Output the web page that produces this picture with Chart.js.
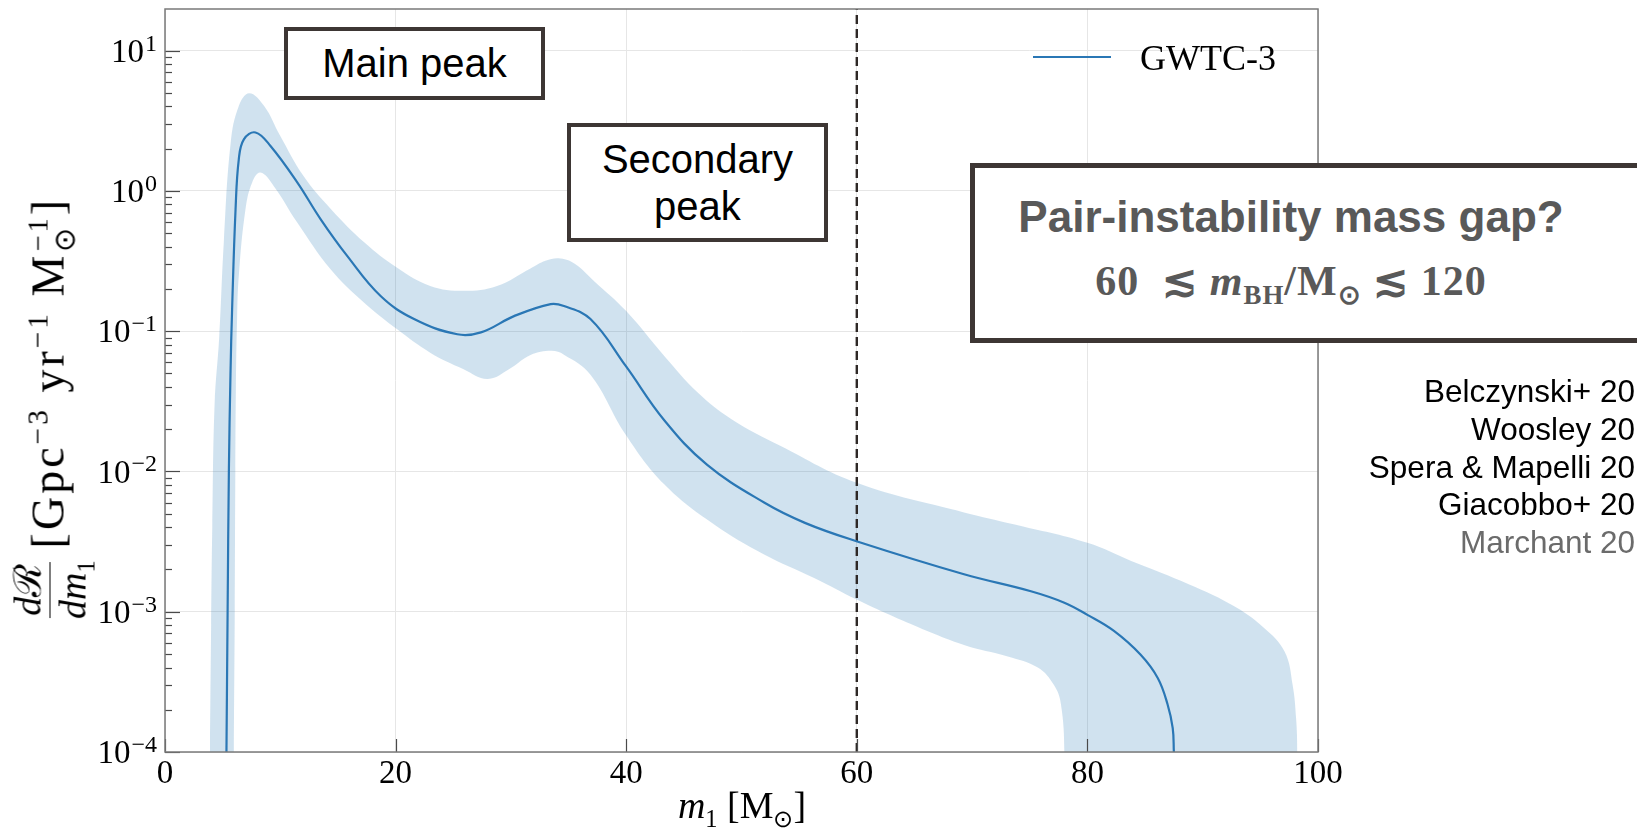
<!DOCTYPE html>
<html>
<head>
<meta charset="utf-8">
<script src="https://cdn.jsdelivr.net/npm/chart.js@4.4.0/dist/chart.umd.min.js"></script>
<style>
    html, body { margin: 0; padding: 0; background: #fff; }
    #wrap { position: relative; width: 1637px; height: 828px; overflow: hidden; }
    #chart { position: absolute; left: 0; top: 0; }
    .box {
        position: absolute; box-sizing: border-box; background: #fff;
        border: 4px solid #3d3634;
        display: flex; align-items: center; justify-content: center; text-align: center;
        font-family: 'Liberation Sans', Arial, sans-serif; font-size: 40px; color: #000;
    }
    .serif { font-family: 'Liberation Serif', 'Times New Roman', serif; }
    .abs { position: absolute; white-space: nowrap; }
    #refs { right: 2px; top: 373px; text-align: right; font-family: 'Liberation Sans', Arial, sans-serif; font-size: 31.5px; line-height: 37.8px; color: #000; }
    #ytitle {
        left: 52px; top: 381px; transform: translate(-50%, -50%) rotate(-90deg);
        display: flex; align-items: center; font-size: 38px; color: #000;
    }
    #ytitle .unit { font-size: 46px; letter-spacing: 3px; }
    .frac { display: inline-flex; flex-direction: column; align-items: center; margin-right: 12px; line-height: 1; }
    .frac .num { border-bottom: 1.6px solid #000; padding: 0 2px 3px; }
    .frac .den { padding-top: 3px; }
    sup, sub { font-size: 0.64em; line-height: 0; }
    .ss { display: inline-flex; flex-direction: column; font-size: 0.62em; line-height: 0.95; vertical-align: 0.55em; margin-left: 1px; }
</style>
</head>
<body>
<div id="wrap">
    <canvas id="chart" width="1637" height="828"></canvas>

    <div class="box" style="left:284px; top:27px; width:261px; height:73px;">Main peak</div>
    <div class="box" style="left:567px; top:123px; width:261px; height:119px; line-height:46.7px;">Secondary<br>peak</div>

    <div class="box" style="left:970px; top:163px; width:720px; height:180px; border-width:5px;"></div>
    <div class="abs" style="left:970px; width:642px; top:195px; text-align:center; font-family:'Liberation Sans', Arial, sans-serif; font-weight:bold; font-size:44px; line-height:44px; color:#595959;">Pair-instability mass gap?</div>
    <div class="abs serif" style="left:970px; width:642px; top:260px; text-align:center; font-weight:bold; font-size:42px; line-height:42px; letter-spacing:1px; color:#595959;">60&nbsp; ≲ <i>m</i><sub>BH</sub>/M<sub>⊙</sub> ≲ 120</div>

    <div class="abs" style="left:1033px; top:56px; width:78px; height:2.4px; background:#2a77b5;"></div>
    <div class="abs serif" style="left:1140px; top:40px; font-size:36px; line-height:36px;">GWTC-3</div>

    <div id="refs" class="abs">
        Belczynski+ 20<br>Woosley 20<br>Spera &amp; Mapelli 20<br>Giacobbo+ 20<br><span style="color:#6b6b6b;">Marchant 20</span>
    </div>

    <div class="abs serif" style="left:742px; top:786px; transform:translateX(-50%); font-size:38px; line-height:38px;"><i>m</i><sub>1</sub> [M<sub>⊙</sub>]</div>

    <div id="ytitle" class="abs serif">
        <span class="frac"><span class="num"><i>d</i>ℛ</span><span class="den"><i>dm</i><sub>1</sub></span></span>
        <span class="unit">[Gpc<sup>−3</sup> yr<sup>−1</sup> M<span class="ss"><span>−1</span><span>⊙</span></span>]</span>
    </div>
</div>

<script>
// axis limits
const xMin = 0, xMax = 100;
const yMin = 1e-4, yMax = 19.8;
const gapEdge = 60;
// band edges that run off the bottom of the plot
const offScale = 1e-6;

// median (GWTC-3)
const medianMass = [5.33, 5.43, 5.54, 5.68, 5.82, 6.12, 6.4, 6.84, 7.85, 9.15, 11.47, 13.49, 15.8, 18.7, 21.6, 25.35, 27.4, 30.27, 33.45, 34.6, 36.9, 39.96, 43.3, 47.0, 51.96, 55.5, 59.97, 69.3, 75.1, 78.0, 80.0, 82.3, 84.6, 86.1, 86.95, 87.4, 87.5];
const medianRate = [1e-4, 1e-3, 1e-2, 0.05, 0.143, 0.74, 1.68, 2.33, 2.61, 2.09, 1.15, 0.63, 0.344, 0.178, 0.122, 0.095, 0.098, 0.128, 0.156, 0.151, 0.122, 0.0565, 0.0232, 0.0112, 0.0060, 0.0043, 0.00318, 0.00185, 0.0014, 0.00116, 0.00095, 0.00073, 0.000495, 0.000337, 0.000219, 0.000148, 1e-4];

// 90% band, upper edge
const upperMass = [3.9, 4.0, 4.1, 4.3, 4.7, 5.1, 5.7, 6.4, 7.3, 8.6, 10.0, 12.0, 14.4, 17.3, 20.1, 23.0, 25.9, 28.8, 31.7, 33.0, 34.3, 35.6, 37.2, 40.0, 43.3, 46.2, 49.1, 53.4, 60.0, 69.3, 73.6, 80.0, 83.8, 88.1, 92.5, 95.3, 97.1, 97.8, 98.1, 98.2, 98.25];
const upperRate = [1e-4, 8e-4, 4e-3, 0.03, 0.09, 0.43, 2.21, 4.03, 4.97, 4.03, 2.46, 1.28, 0.74, 0.428, 0.284, 0.21, 0.194, 0.21, 0.28, 0.318, 0.33, 0.3, 0.228, 0.139, 0.0665, 0.0365, 0.0237, 0.0152, 0.0083, 0.0051, 0.0042, 0.0031, 0.0023, 0.00166, 0.00112, 0.00077, 0.00052, 0.0003, 0.000174, 1e-4, offScale];

// 90% band, lower edge
const lowerMass = [3.9, 5.9, 5.97, 6.05, 6.1, 6.15, 6.25, 6.4, 6.98, 7.56, 8.28, 9.44, 11.47, 14.36, 17.25, 20.14, 23.0, 25.9, 28.0, 30.0, 31.7, 33.5, 34.6, 36.9, 39.96, 43.3, 47.6, 51.96, 56.3, 60.0, 63.5, 69.3, 73.1, 75.7, 77.1, 77.7, 78.0, 78.1, 98.3];
const lowerRate = [offScale, offScale, 1e-4, 1e-3, 0.01, 0.04, 0.12, 0.247, 0.74, 1.15, 1.35, 1.08, 0.594, 0.276, 0.16, 0.103, 0.0703, 0.0536, 0.0457, 0.0547, 0.0676, 0.0724, 0.068, 0.049, 0.0183, 0.0081, 0.0042, 0.00256, 0.00174, 0.00122, 0.0009, 0.00058, 0.00048, 0.0004, 0.0003, 0.00022, 1e-4, offScale, offScale];

const toPoints = (xs, ys) => xs.map((m, i) => ({ x: m, y: ys[i] }));

// major = power of ten, minor = 2..9 x power of ten
function tickKind(v) {
    if (!(v > 0)) return null;
    const e = Math.floor(Math.log10(v) + 1e-9);
    const m = v / Math.pow(10, e);
    if (Math.abs(m - 1) < 1e-6) return 'major';
    const r = Math.round(m);
    if (Math.abs(m - r) < 1e-6 && r >= 2 && r <= 9) return 'minor';
    return null;
}

// inner ticks, frame and 10^n labels
const framePlugin = {
    id: 'frame',
    afterDatasetsDraw(chart) {
        const { ctx, chartArea: a, scales: { x, y } } = chart;
        ctx.save();
        ctx.strokeStyle = '#4a4a4a';
        ctx.lineWidth = 1.2;
        y.ticks.forEach(t => {
            const kind = tickKind(t.value);
            if (!kind) return;
            const py = Math.round(y.getPixelForValue(t.value)) + 0.5;
            ctx.beginPath();
            ctx.moveTo(a.left, py);
            ctx.lineTo(a.left + (kind === 'major' ? 15 : 7), py);
            ctx.stroke();
        });
        x.ticks.forEach(t => {
            const px = Math.round(x.getPixelForValue(t.value)) + 0.5;
            ctx.beginPath();
            ctx.moveTo(px, a.bottom);
            ctx.lineTo(px, a.bottom - 13);
            ctx.stroke();
        });
        ctx.strokeStyle = '#7a7a7a';
        ctx.lineWidth = 1.5;
        ctx.strokeRect(a.left, a.top, a.right - a.left, a.bottom - a.top);

        ctx.fillStyle = '#000';
        ctx.textBaseline = 'alphabetic';
        y.ticks.forEach(t => {
            if (tickKind(t.value) !== 'major') return;
            const n = Math.round(Math.log10(t.value));
            const exp = n < 0 ? '\u2212' + (-n) : String(n);
            const py = y.getPixelForValue(t.value);
            ctx.font = "24px 'Liberation Serif'";
            const w = ctx.measureText(exp).width;
            const ex = a.left - 8 - w;
            ctx.textAlign = 'left';
            ctx.fillText(exp, ex, py);
            ctx.font = "33px 'Liberation Serif'";
            ctx.textAlign = 'right';
            ctx.fillText('10', ex - 1, py + 11.3);
        });
        ctx.restore();
    }
};

const curve = { pointRadius: 0, fill: false, tension: 0.4, cubicInterpolationMode: 'default' };

new Chart(document.getElementById('chart'), {
    type: 'line',
    data: {
        datasets: [
            { ...curve, label: 'upper', data: toPoints(upperMass, upperRate), fill: '+1', backgroundColor: 'rgba(31,119,180,0.21)', borderColor: 'rgba(0,0,0,0)', borderWidth: 0, order: 2 },
            { ...curve, label: 'lower', data: toPoints(lowerMass, lowerRate), borderColor: 'rgba(0,0,0,0)', borderWidth: 0, order: 3 },
            { ...curve, label: 'GWTC-3', data: toPoints(medianMass, medianRate), borderColor: '#2a77b5', borderWidth: 2.2, order: 0 },
            { label: 'gap', data: [{ x: gapEdge, y: yMin }, { x: gapEdge, y: yMax }], fill: false, borderColor: '#2e2826', borderWidth: 2.4, borderDash: [9, 5], pointRadius: 0, tension: 0, order: 1 }
        ]
    },
    options: {
        responsive: false,
        animation: false,
        layout: { padding: { top: 9, right: 319, left: 0, bottom: 0 } },
        plugins: { legend: { display: false }, tooltip: { enabled: false } },
        scales: {
            x: {
                type: 'linear', min: xMin, max: xMax,
                afterFit: s => { s.height = 76; },
                grid: { color: '#e6e6e6', drawTicks: false, lineWidth: 1 },
                border: { display: false },
                ticks: { stepSize: 20, maxRotation: 0, padding: 3, color: '#000', font: { family: "'Liberation Serif'", size: 33 } }
            },
            y: {
                type: 'logarithmic', min: yMin, max: yMax,
                afterFit: s => { s.width = 165; },
                grid: { color: c => tickKind(c.tick.value) === 'major' ? '#e6e6e6' : 'rgba(0,0,0,0)', drawTicks: false, lineWidth: 1 },
                border: { display: false },
                ticks: { display: false }
            }
        }
    },
    plugins: [framePlugin]
});

// centre the rotated y title on its spot
const yt = document.getElementById('ytitle');
const r = yt.getBoundingClientRect();
yt.style.left = (52 + 50 - (r.left + r.width / 2)) + 'px';
yt.style.top = (381 + 408 - (r.top + r.height / 2)) + 'px';
</script>
</body>
</html>
